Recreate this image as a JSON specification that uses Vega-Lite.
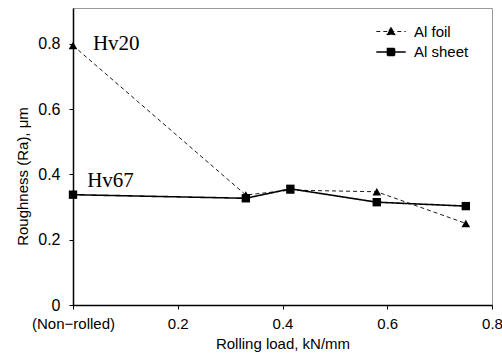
{
  "$schema": "https://vega.github.io/schema/vega-lite/v6.json",
  "width": 419,
  "height": 297,
  "autosize": {"type": "none"},
  "padding": {"left": 73, "top": 8, "right": 10, "bottom": 51},
  "background": "white",
  "config": {
    "view": {"stroke": "#9a9a9a", "strokeWidth": 1},
    "font": "Liberation Sans",
    "axis": {
      "domainColor": "black",
      "tickColor": "black",
      "labelColor": "black",
      "titleColor": "black",
      "grid": false,
      "labelFont": "Liberation Sans",
      "titleFont": "Liberation Sans",
      "titleFontWeight": "normal"
    }
  },
  "datasets": {
    "series": [
      {"load": 0, "ra": 0.795, "material": "Al foil"},
      {"load": 0.33, "ra": 0.337, "material": "Al foil"},
      {"load": 0.415, "ra": 0.352, "material": "Al foil"},
      {"load": 0.58, "ra": 0.347, "material": "Al foil"},
      {"load": 0.75, "ra": 0.25, "material": "Al foil"},
      {"load": 0, "ra": 0.338, "material": "Al sheet"},
      {"load": 0.33, "ra": 0.327, "material": "Al sheet"},
      {"load": 0.415, "ra": 0.356, "material": "Al sheet"},
      {"load": 0.58, "ra": 0.315, "material": "Al sheet"},
      {"load": 0.75, "ra": 0.303, "material": "Al sheet"}
    ],
    "notes": [
      {"load": 0.038, "ra": 0.80, "text": "Hv20"},
      {"load": 0.027, "ra": 0.38, "text": "Hv67"}
    ]
  },
  "layer": [
    {
      "data": {"name": "series"},
      "mark": {"type": "line", "color": "black", "clip": false},
      "encoding": {
        "x": {
          "field": "load", "type": "quantitative",
          "scale": {"domain": [0, 0.8], "nice": false, "zero": false},
          "axis": {
            "title": "Rolling load, kN/mm",
            "titleFontSize": 15,
            "titlePadding": 5,
            "values": [0, 0.2, 0.4, 0.6, 0.8],
            "labelExpr": "datum.value === 0 ? '(Non−rolled)' : format(datum.value, '.1f')",
            "labelFontSize": 15,
            "tickSize": 4,
            "tickWidth": 1,
            "labelPadding": 7,
            "domainWidth": 1.5,
            "labelFlush": false,
            "labelOverlap": false
          }
        },
        "y": {
          "field": "ra", "type": "quantitative",
          "scale": {"domain": [0, 0.91], "nice": false, "zero": false},
          "axis": {
            "title": "Roughness (Ra), μm",
            "titleFontSize": 15,
            "titlePadding": 7,
            "titleY": 168,
            "values": [0, 0.1, 0.2, 0.3, 0.4, 0.5, 0.6, 0.7, 0.8],
            "labelExpr": "round(datum.value * 10) % 2 === 0 ? (datum.value === 0 ? '0' : format(datum.value, '.1f')) : ''",
            "labelFontSize": 16,
            "tickSize": 4,
            "tickWidth": 1,
            "labelPadding": 9,
            "domainWidth": 1.5,
            "labelOverlap": false
          }
        },
        "detail": {"field": "material"},
        "strokeDash": {
          "field": "material", "type": "nominal",
          "scale": {"domain": ["Al foil", "Al sheet"], "range": [[4, 3], [1, 0]]},
          "legend": {
            "title": null,
            "orient": "none",
            "legendX": 310,
            "legendY": 16,
            "padding": 0,
            "symbolSize": 196,
            "symbolStrokeColor": "black",
            "symbolFillColor": "black",
            "symbolStrokeWidth": 1.2,
            "symbolOpacity": 1,
            "labelFontSize": 15,
            "labelFont": "Liberation Sans",
            "labelColor": "black",
            "labelOffset": 15,
            "rowPadding": 4,
            "encode": {
              "symbols": {
                "update": {
                  "shape": {"signal": "datum.value === 'Al foil' ? 'M-2.1,0H2.1M0,-0.6L0.6,0.45H-0.6Z' : 'M-2.1,0H2.1M-0.5,-0.5H0.5V0.5H-0.5Z'"},
                  "fill": {"value": "black"},
                  "stroke": {"value": "black"},
                  "strokeWidth": {"value": 1.2},
                  "opacity": {"value": 1}
                }
              }
            }
          }
        },
        "strokeWidth": {
          "field": "material", "type": "nominal",
          "scale": {"domain": ["Al foil", "Al sheet"], "range": [0.9, 1.6]},
          "legend": null
        }
      }
    },
    {
      "data": {"name": "series"},
      "transform": [{"filter": "datum.material === 'Al foil'"}],
      "mark": {"type": "point", "shape": "triangle-up", "filled": true, "color": "black", "opacity": 1, "size": 75, "clip": false},
      "encoding": {
        "x": {"field": "load", "type": "quantitative"},
        "y": {"field": "ra", "type": "quantitative"}
      }
    },
    {
      "data": {"name": "series"},
      "transform": [{"filter": "datum.material === 'Al sheet'"}],
      "mark": {"type": "point", "shape": "square", "filled": true, "color": "black", "opacity": 1, "size": 70, "clip": false},
      "encoding": {
        "x": {"field": "load", "type": "quantitative"},
        "y": {"field": "ra", "type": "quantitative"}
      }
    },
    {
      "data": {"name": "notes"},
      "mark": {"type": "text", "align": "left", "baseline": "middle", "font": "Liberation Serif", "fontSize": 21, "color": "black"},
      "encoding": {
        "x": {"field": "load", "type": "quantitative"},
        "y": {"field": "ra", "type": "quantitative"},
        "text": {"field": "text"}
      }
    }
  ]
}
